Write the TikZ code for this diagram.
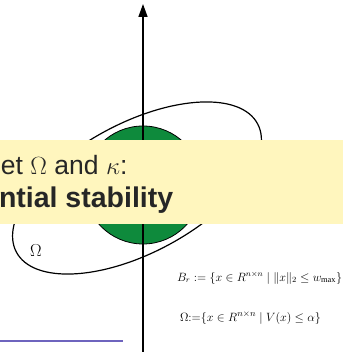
\documentclass[tikz,border=0pt]{standalone}
\usepackage{amsmath}
\usepackage{fontspec}
\setmainfont{Liberation Serif}
\setsansfont{Liberation Sans}
\usetikzlibrary{arrows.meta}
\definecolor{setgreen}{RGB}{14,138,60}
\definecolor{noteyellow}{RGB}{255,246,190}
\definecolor{rulecolor}{RGB}{110,100,190}

\begin{document}
\begin{tikzpicture}[x=1pt,y=1pt,
  every node/.style={inner sep=0pt,outer sep=0pt},
  setline/.style={line width=1.2pt},
  note/.style={anchor=base west,text=black!85},
  formula/.style={anchor=west,font=\fontsize{12.4}{14}\selectfont}]
  \useasboundingbox (0,0) rectangle (343,352);
  \coordinate (o) at (143,0);
  \coordinate (top) at (143,348);
  \coordinate (c) at (143,167);
  % ball and level set
  \draw[fill=setgreen,line width=0.8pt] (c) circle (59);
  \draw[setline,rotate around={28:(137,164)}] (137,164) ellipse (136.6 and 65);
  \draw[line width=1.5pt,-{Triangle[length=13pt,width=9pt]}] (o) -- (top);
  \node (om) at (36,101) {\fontsize{17}{18}\selectfont$\Omega$};
  % note box
  \fill[noteyellow] (0,128) rectangle (343,212);
  \node[note] (l1) at (1,177)
    {\fontsize{26.5}{30}\selectfont\sffamily et $\Omega$ and $\kappa$:};
  \node[note] (l2) at (-1,144)
    {\fontsize{28.5}{30}\selectfont\sffamily\bfseries ntial stability};
  % sets
  \node[formula,font=\fontsize{11.9}{14}\selectfont] (br) at (177,74)
    {$B_r := \{x \in R^{n\times n} \mid \|x\|_2 \le w_{\max}\}$};
  \node[formula] (ws) at (180,34)
    {$\Omega{:=} \{x \in R^{n\times n} \mid V(x) \le \alpha\}$};
  \coordinate (r1) at (0,11);
  \coordinate (r2) at (123,11);
  \draw[rulecolor,line width=1.8pt] (r1) -- (r2);
\end{tikzpicture}
\end{document}
